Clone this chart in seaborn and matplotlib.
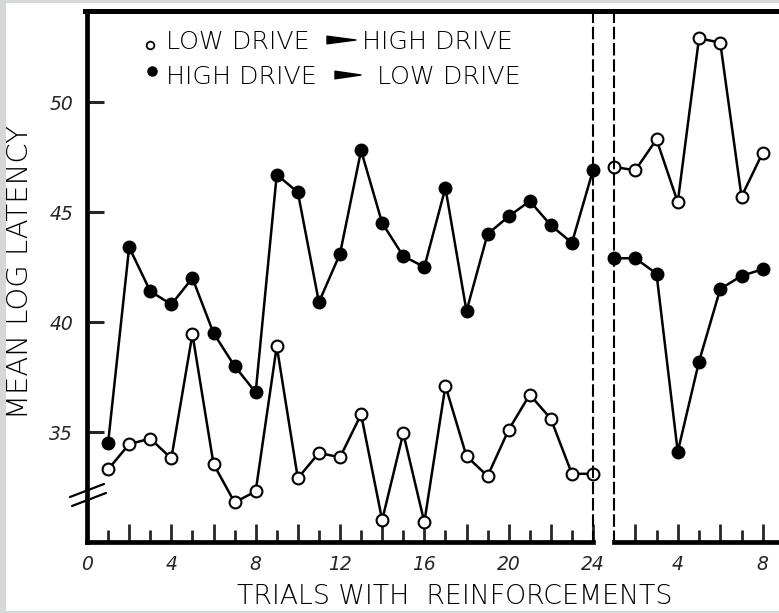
import numpy as np
import pandas as pd
import matplotlib
matplotlib.use("Agg")
import matplotlib.pyplot as plt
from matplotlib.lines import Line2D
from matplotlib.patches import Rectangle
from matplotlib.ticker import FixedLocator, FuncFormatter
import seaborn as sns

# ---------------- data ----------------
trials_a = list(range(1, 25))
high_low_a = [34.5, 43.4, 41.4, 40.8, 42.0, 39.5, 38.0, 36.8, 46.7, 45.9, 40.9, 43.1,
              47.8, 44.5, 43.0, 42.5, 46.1, 40.5, 44.0, 44.8, 45.5, 44.4, 43.6, 46.9]
low_high_a = [33.3, 34.45, 34.7, 33.8, 39.45, 33.55, 31.8, 32.3, 38.9, 32.9, 34.05, 33.85,
              35.8, 31.0, 34.95, 30.9, 37.1, 33.9, 33.0, 35.1, 36.7, 35.6, 33.1, 33.1]

trials_b = list(range(1, 9))
low_high_b = [47.05, 46.9, 48.3, 45.45, 52.9, 52.7, 45.7, 47.7]
high_low_b = [42.9, 42.9, 42.2, 34.1, 38.2, 41.5, 42.1, 42.4]

yticks = [35, 40, 45, 50]
xticks_a_labeled = [0, 4, 8, 12, 16, 20, 24]
xticks_b_labeled = [4, 8]

legend_low_high = ["LOW DRIVE", "HIGH DRIVE"]
legend_high_low = ["HIGH DRIVE", "LOW DRIVE"]
ylabel = "MEAN LOG LATENCY"
xlabel = "TRIALS WITH  REINFORCEMENTS"

# ---------------- style ----------------
sns.set_style("white")
plt.rcParams["font.family"] = ["DejaVu Sans"]

W, H = 779, 613
fig = plt.figure(figsize=(W / 100, H / 100), dpi=100)
fig.patch.set_facecolor("#d5d7d9")

def fx(px):
    return px / W

def fy(py):
    return 1 - py / H

# white page
fig.patches.append(Rectangle((fx(6), fy(611)), fx(779) - fx(6), fy(3) - fy(611),
                             transform=fig.transFigure, facecolor="white",
                             edgecolor="none", zorder=-10))

y0, y1 = 30.0, 54.14
ax1 = fig.add_axes([fx(87), fy(542), fx(593) - fx(87), fy(11) - fy(542)])
ax2 = fig.add_axes([fx(614), fy(542), fx(779) - fx(614), fy(11) - fy(542)])
for ax in (ax1, ax2):
    ax.set_facecolor("none")
    ax.set_ylim(y0, y1)

ax1.set_xlim(0, 24)
ax2.set_xlim(1, 1 + (779 - 614) / 21.25)

df_a = pd.DataFrame({"trial": trials_a, "hl": high_low_a, "lh": low_high_a})
df_b = pd.DataFrame({"trial": trials_b, "hl": high_low_b, "lh": low_high_b})

line_kw = dict(color="black", linewidth=1.8, marker="o", markersize=8.5,
               markeredgecolor="black", markeredgewidth=1.5, legend=False,
               clip_on=False)
for ax, df in ((ax1, df_a), (ax2, df_b)):
    sns.lineplot(data=df, x="trial", y="hl", ax=ax, markerfacecolor="black", **line_kw)
    sns.lineplot(data=df, x="trial", y="lh", ax=ax, markerfacecolor="white", **line_kw)
    ax.set_xlabel("")
    ax.set_ylabel("")

spine_lw = 3.4
# left panel spines
ax1.spines["top"].set_visible(False)
ax1.spines["left"].set_linewidth(spine_lw)
ax1.spines["bottom"].set_linewidth(spine_lw)
ax1.spines["right"].set_linewidth(1.5)
ax1.spines["right"].set_linestyle((0, (5, 2.8)))
# right panel spines
ax2.spines["top"].set_visible(False)
ax2.spines["right"].set_visible(False)
ax2.spines["bottom"].set_linewidth(spine_lw)
ax2.spines["left"].set_linewidth(1.5)
ax2.spines["left"].set_linestyle((0, (5, 2.8)))
for ax in (ax1, ax2):
    for s in ax.spines.values():
        s.set_color("black")

# top border line spanning both panels
fig.add_artist(Line2D([fx(85), fx(779)], [fy(11), fy(11)], transform=fig.transFigure,
                      color="black", linewidth=3.6, solid_capstyle="projecting"))

# ticks
tick_font = dict(fontsize=13.5, fontstyle="italic")
ax1.yaxis.set_major_locator(FixedLocator(yticks))
ax1.set_yticklabels([str(v) for v in yticks], **tick_font)
ax1.tick_params(axis="y", direction="in", length=12, width=2.2, pad=10, left=True)
ax2.tick_params(axis="y", left=False, labelleft=False)

ax1.xaxis.set_major_locator(FixedLocator(list(range(0, 25, 2))))
ax1.xaxis.set_minor_locator(FixedLocator(list(range(1, 24, 2))))
ax1.xaxis.set_major_formatter(FuncFormatter(
    lambda v, p: str(int(round(v))) if int(round(v)) in xticks_a_labeled else ""))
ax2.xaxis.set_major_locator(FixedLocator([2, 4, 6, 8]))
ax2.xaxis.set_minor_locator(FixedLocator([3, 5, 7]))
ax2.xaxis.set_major_formatter(FuncFormatter(
    lambda v, p: str(int(round(v))) if int(round(v)) in xticks_b_labeled else ""))
for ax in (ax1, ax2):
    ax.tick_params(axis="x", which="major", direction="in", length=13, width=2.0,
                   pad=9, bottom=True, labelsize=13.5)
    ax.tick_params(axis="x", which="minor", direction="in", length=8.5, width=2.0,
                   bottom=True)
    for lab in ax.get_xticklabels():
        lab.set_fontstyle("italic")

# axis break mark on left spine
for (xa, ya, xb, yb) in ((70, 497, 104, 484), (72, 506, 106, 493)):
    fig.add_artist(Line2D([fx(xa), fx(xb)], [fy(ya), fy(yb)], transform=fig.transFigure,
                          color="black", linewidth=1.6))

# axis labels
txt_kw = dict(color="black", fontweight="light")
fig.text(fx(20), fy(272), ylabel, rotation=90, ha="center", va="center",
         fontsize=21, **txt_kw)
fig.text(fx(455), fy(596), xlabel, ha="center", va="center", fontsize=19.3, **txt_kw)

# legend (hand-drawn as in the original)
leg_fs = 18.2
fig.add_artist(Line2D([fx(150)], [fy(45)], transform=fig.transFigure, marker="o",
                      markersize=5.5, markerfacecolor="white", markeredgecolor="black",
                      markeredgewidth=1.3, linestyle="none"))
fig.add_artist(Line2D([fx(152)], [fy(71)], transform=fig.transFigure, marker="o",
                      markersize=6.5, markerfacecolor="black", markeredgecolor="black",
                      linestyle="none"))
fig.text(fx(166), fy(49), legend_low_high[0], ha="left", va="baseline", fontsize=leg_fs, **txt_kw)
fig.text(fx(362), fy(49), legend_low_high[1], ha="left", va="baseline", fontsize=leg_fs, **txt_kw)
fig.text(fx(166), fy(84), legend_high_low[0], ha="left", va="baseline", fontsize=leg_fs, **txt_kw)
fig.text(fx(377), fy(84), legend_high_low[1], ha="left", va="baseline", fontsize=leg_fs, **txt_kw)
for (xa, xb, yy) in ((327, 356, 40), (335, 361, 75)):
    ax1.annotate("", xy=(fx(xb), fy(yy)), xytext=(fx(xa), fy(yy)),
                 xycoords="figure fraction", textcoords="figure fraction",
                 arrowprops=dict(arrowstyle="wedge,tail_width=0.55,shrink_factor=0.5",
                                 color="black", shrinkA=0, shrinkB=0))

fig.savefig("out.png", dpi=100, facecolor=fig.get_facecolor())
